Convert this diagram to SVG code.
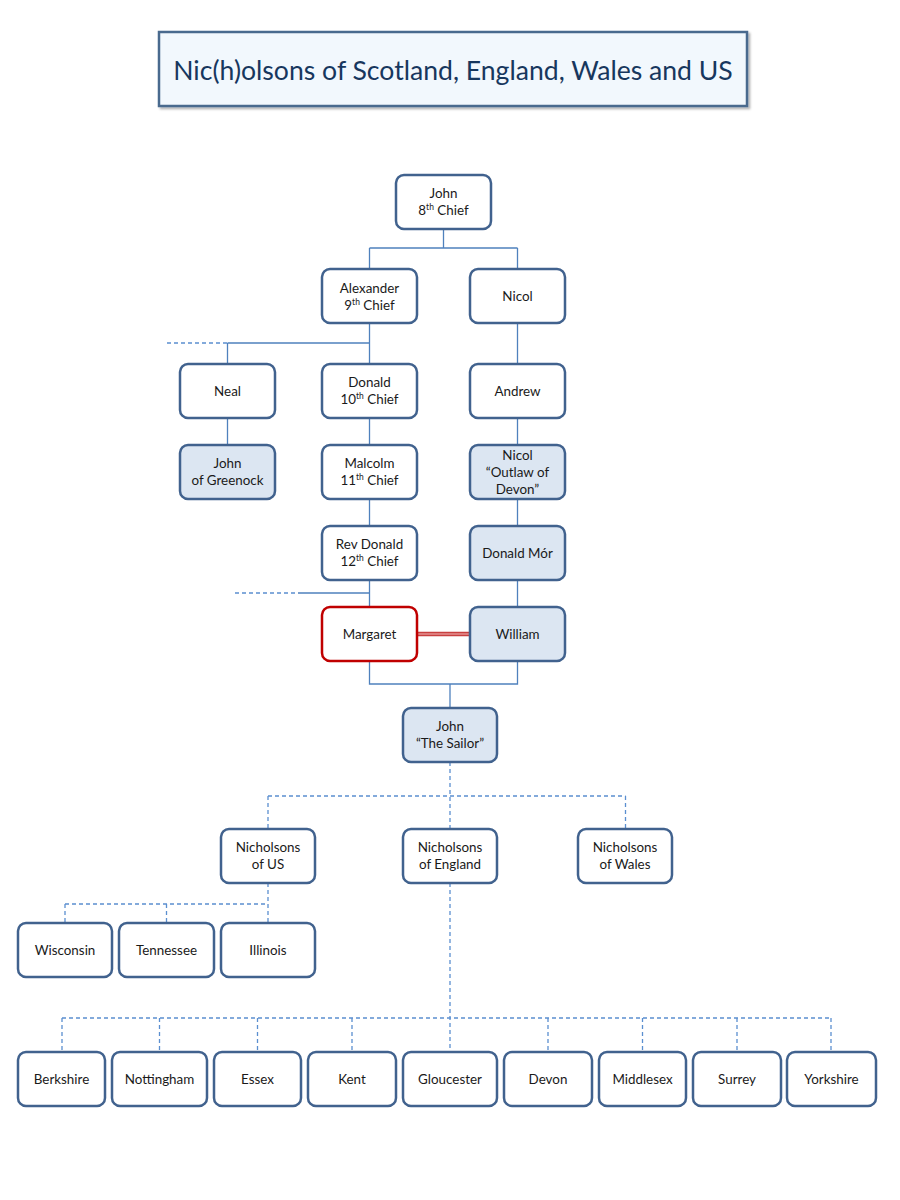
<svg xmlns="http://www.w3.org/2000/svg" width="900" height="1200" viewBox="0 0 900 1200">
<style>
.bx{fill:#ffffff;stroke:#41628e;stroke-width:2.5}
.fl{fill:#dce6f2;stroke:#41628e;stroke-width:2.5}
.rd{fill:#ffffff;stroke:#c00000;stroke-width:2.5}
.t{font-family:Lato,"Liberation Sans",sans-serif;font-size:13.4px;fill:#1a1a1a;text-anchor:middle}
.sup{font-size:8.5px}
.ln{fill:none;stroke:#4f81bd;stroke-width:1.3}
.ds{fill:none;stroke:#5b8fd0;stroke-width:1.3;stroke-dasharray:4 3}
</style>
<defs>
<filter id="sh" x="-5%" y="-20%" width="110%" height="150%">
<feDropShadow dx="2" dy="2" stdDeviation="1.2" flood-color="#000" flood-opacity="0.3"/>
</filter>
</defs>
<rect width="900" height="1200" fill="#ffffff"/>
<g id="title">
<rect x="159" y="32" width="588" height="74" fill="#f2f8fd" stroke="#4a6a8e" stroke-width="2.5" filter="url(#sh)"/>
<text x="453" y="80" font-family="Lato,'Liberation Sans',sans-serif" font-size="26.6" fill="#17375e" text-anchor="middle">Nic(h)olsons of Scotland, England, Wales and US</text>
</g>
<g id="connectors">
<path class="ln" d="M443.5 229V248M369.5 248H517.5M369.5 248V269M517.5 248V269"/>
<path class="ln" d="M369.5 323V364M227.5 343H369.5M227.5 343V364M517.5 323V364"/>
<path class="ds" d="M167 343H227"/>
<path class="ln" d="M227.5 418V445M369.5 418V445M517.5 418V445M369.5 499V526M517.5 499V526M517.5 580V607"/>
<path class="ln" d="M369.5 580V607M298 593H369.5"/>
<path class="ds" d="M235 593H298"/>
<path class="ln" d="M369.5 661V684H517.5V661M450 684V708"/>
<path d="M417 634H470" stroke="#c84040" stroke-width="4.5" fill="none"/>
<path d="M417 634H470" stroke="#f2b8b8" stroke-width="1.2" fill="none"/>
<path class="ds" d="M450 762V829M268 796H625.5M268 796V829M625.5 796V829"/>
<path class="ds" d="M268 883V923M65 904H268M65 904V923M166.5 904V923"/>
<path class="ds" d="M450 883V1051M62 1018H831M62 1018V1051M159.5 1018V1051M257.5 1018V1051M352 1018V1051M548 1018V1051M642.5 1018V1051M737 1018V1051M831 1018V1051"/>
</g>
<g id="john8"><rect class="bx" x="396" y="175" width="95" height="54" rx="8"/><text class="t" x="443.5" y="198">John</text><text class="t" x="443.5" y="215">8<tspan class="sup" dy="-5">th</tspan><tspan dy="5"> Chief</tspan></text></g>
<g id="alexander"><rect class="bx" x="322" y="269" width="95" height="54" rx="8"/><text class="t" x="369.5" y="293">Alexander</text><text class="t" x="369.5" y="310">9<tspan class="sup" dy="-5">th</tspan><tspan dy="5"> Chief</tspan></text></g>
<g id="nicol"><rect class="bx" x="470" y="269" width="95" height="54" rx="8"/><text class="t" x="517.5" y="301">Nicol</text></g>
<g id="neal"><rect class="bx" x="180" y="364" width="95" height="54" rx="8"/><text class="t" x="227.5" y="396">Neal</text></g>
<g id="donald10"><rect class="bx" x="322" y="364" width="95" height="54" rx="8"/><text class="t" x="369.5" y="387">Donald</text><text class="t" x="369.5" y="404">10<tspan class="sup" dy="-5">th</tspan><tspan dy="5"> Chief</tspan></text></g>
<g id="andrew"><rect class="bx" x="470" y="364" width="95" height="54" rx="8"/><text class="t" x="517.5" y="396">Andrew</text></g>
<g id="johngreenock"><rect class="fl" x="180" y="445" width="95" height="54" rx="8"/><text class="t" x="227.5" y="468">John</text><text class="t" x="227.5" y="485">of Greenock</text></g>
<g id="malcolm"><rect class="bx" x="322" y="445" width="95" height="54" rx="8"/><text class="t" x="369.5" y="468">Malcolm</text><text class="t" x="369.5" y="485">11<tspan class="sup" dy="-5">th</tspan><tspan dy="5"> Chief</tspan></text></g>
<g id="nicoloutlaw"><rect class="fl" x="470" y="445" width="95" height="54" rx="8"/><text class="t" x="517.5" y="460">Nicol</text><text class="t" x="517.5" y="477">“Outlaw of</text><text class="t" x="517.5" y="494">Devon”</text></g>
<g id="revdonald"><rect class="bx" x="322" y="526" width="95" height="54" rx="8"/><text class="t" x="369.5" y="549">Rev Donald</text><text class="t" x="369.5" y="566">12<tspan class="sup" dy="-5">th</tspan><tspan dy="5"> Chief</tspan></text></g>
<g id="donaldmor"><rect class="fl" x="470" y="526" width="95" height="54" rx="8"/><text class="t" x="517.5" y="558">Donald Mór</text></g>
<g id="margaret"><rect class="rd" x="322" y="607" width="95" height="54" rx="8"/><text class="t" x="369.5" y="639">Margaret</text></g>
<g id="william"><rect class="fl" x="470" y="607" width="95" height="54" rx="8"/><text class="t" x="517.5" y="639">William</text></g>
<g id="johnsailor"><rect class="fl" x="403" y="708" width="94" height="54" rx="8"/><text class="t" x="450" y="731">John</text><text class="t" x="450" y="748">“The Sailor”</text></g>
<g id="nus"><rect class="bx" x="221" y="829" width="94" height="54" rx="8"/><text class="t" x="268" y="852">Nicholsons</text><text class="t" x="268" y="869">of US</text></g>
<g id="neng"><rect class="bx" x="403" y="829" width="94" height="54" rx="8"/><text class="t" x="450" y="852">Nicholsons</text><text class="t" x="450" y="869">of England</text></g>
<g id="nwal"><rect class="bx" x="578" y="829" width="94" height="54" rx="8"/><text class="t" x="625" y="852">Nicholsons</text><text class="t" x="625" y="869">of Wales</text></g>
<g id="wisconsin"><rect class="bx" x="18" y="923" width="94" height="54" rx="8"/><text class="t" x="65" y="955">Wisconsin</text></g>
<g id="tennessee"><rect class="bx" x="119" y="923" width="95" height="54" rx="8"/><text class="t" x="166.5" y="955">Tennessee</text></g>
<g id="illinois"><rect class="bx" x="221" y="923" width="94" height="54" rx="8"/><text class="t" x="268" y="955">Illinois</text></g>
<g id="berkshire"><rect class="bx" x="18" y="1052" width="87" height="54" rx="8"/><text class="t" x="61.5" y="1084">Berkshire</text></g>
<g id="nottingham"><rect class="bx" x="112" y="1052" width="95" height="54" rx="8"/><text class="t" x="159.5" y="1084">Nottingham</text></g>
<g id="essex"><rect class="bx" x="214" y="1052" width="87" height="54" rx="8"/><text class="t" x="257.5" y="1084">Essex</text></g>
<g id="kent"><rect class="bx" x="308" y="1052" width="88" height="54" rx="8"/><text class="t" x="352" y="1084">Kent</text></g>
<g id="gloucester"><rect class="bx" x="403" y="1052" width="94" height="54" rx="8"/><text class="t" x="450" y="1084">Gloucester</text></g>
<g id="devon"><rect class="bx" x="504" y="1052" width="88" height="54" rx="8"/><text class="t" x="548" y="1084">Devon</text></g>
<g id="middlesex"><rect class="bx" x="599" y="1052" width="87" height="54" rx="8"/><text class="t" x="642.5" y="1084">Middlesex</text></g>
<g id="surrey"><rect class="bx" x="693" y="1052" width="88" height="54" rx="8"/><text class="t" x="737" y="1084">Surrey</text></g>
<g id="yorkshire"><rect class="bx" x="787" y="1052" width="89" height="54" rx="8"/><text class="t" x="831.5" y="1084">Yorkshire</text></g>
</svg>
